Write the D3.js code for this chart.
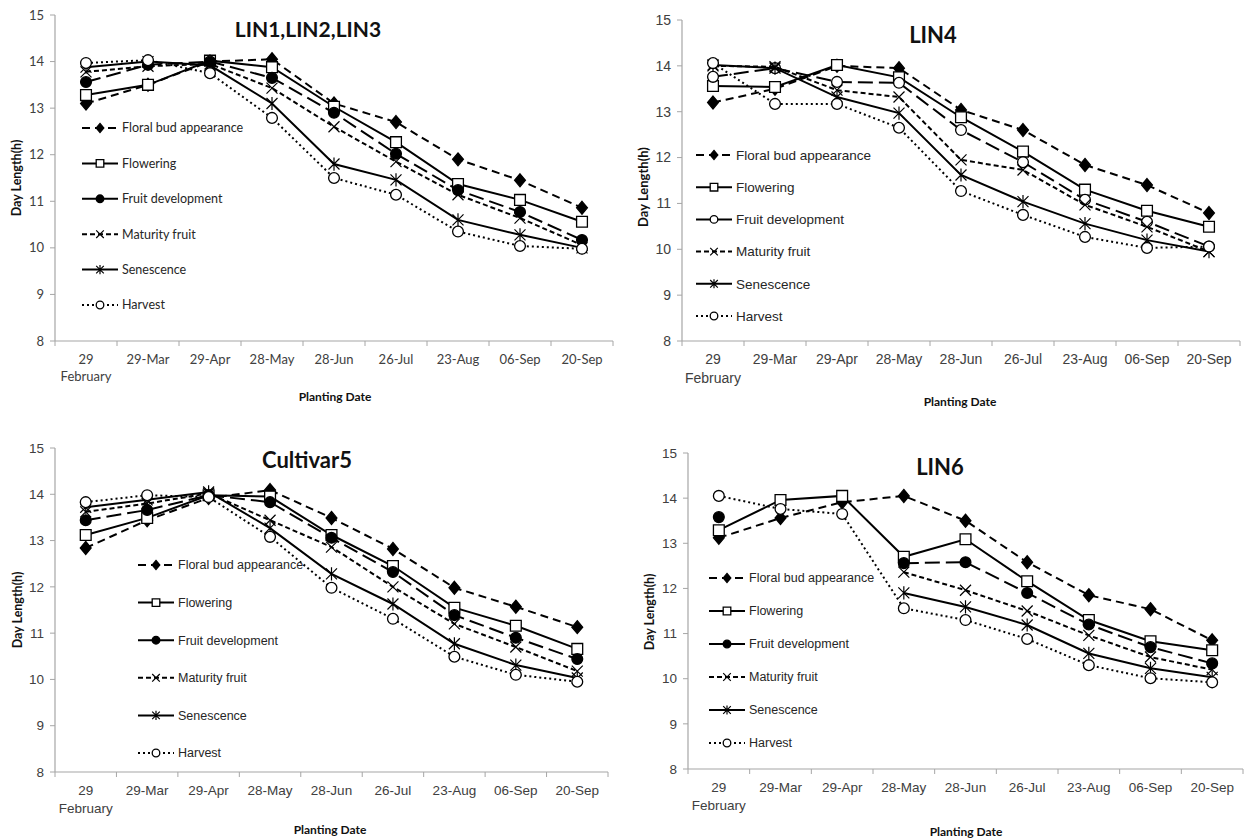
<!DOCTYPE html>
<html>
<head>
<meta charset="utf-8">
<script src="https://cdn.jsdelivr.net/npm/d3@7"></script>
<style>
  body { margin: 0; background: #fff; }
  svg { display: block; }
  .tick-label { fill: #404040; }
  .axis-title { font-family: Lato, "Open Sans", sans-serif; font-weight: bold; fill: #111; }
  .panel-title { font-family: Lato, "Open Sans", sans-serif; font-weight: bold; fill: #111; }
  .legend-text { fill: #262626; }
</style>
</head>
<body>
<svg id="chart" width="1244" height="840"></svg>
<script>
// planting dates (x categories)
const categories = ['29\nFebruary', '29-Mar', '29-Apr', '28-May', '28-Jun', '26-Jul', '23-Aug', '06-Sep', '20-Sep'];
const seriesNames = ['Floral bud appearance', 'Flowering', 'Fruit development', 'Maturity fruit', 'Senescence', 'Harvest'];
const yTicks = [8, 9, 10, 11, 12, 13, 14, 15];

// LIN1,LIN2,LIN3
const lin123Floral = [13.1, 13.5, 14.0, 14.05, 13.1, 12.7, 11.9, 11.45, 10.86];
const lin123Flowering = [13.28, 13.5, 14.02, 13.88, 13.03, 12.27, 11.37, 11.03, 10.56];
const lin123Fruit = [13.56, 13.93, 14.0, 13.65, 12.9, 12.02, 11.24, 10.77, 10.17];
const lin123Maturity = [13.78, 13.9, 13.95, 13.43, 12.6, 11.85, 11.14, 10.64, 10.06];
const lin123Senescence = [13.88, 14.0, 13.92, 13.1, 11.8, 11.46, 10.6, 10.28, 10.0];
const lin123Harvest = [13.97, 14.03, 13.75, 12.79, 11.5, 11.14, 10.35, 10.04, 9.98];

// LIN4
const lin4Floral = [13.2, 13.5, 14.0, 13.95, 13.04, 12.6, 11.84, 11.4, 10.79];
const lin4Flowering = [13.56, 13.54, 14.02, 13.75, 12.88, 12.13, 11.3, 10.84, 10.49];
const lin4Fruit = [13.76, 13.95, 13.65, 13.63, 12.6, 11.9, 11.08, 10.6, 10.06];
const lin4Maturity = [14.0, 13.98, 13.47, 13.32, 11.95, 11.73, 10.97, 10.49, 9.95];
const lin4Senescence = [14.02, 13.95, 13.32, 12.97, 11.62, 11.04, 10.56, 10.2, 9.95];
const lin4Harvest = [14.06, 13.17, 13.17, 12.65, 11.27, 10.75, 10.27, 10.03, 10.06];

// Cultivar5
const cv5Floral = [12.84, 13.44, 13.92, 14.09, 13.49, 12.82, 11.98, 11.57, 11.13];
const cv5Flowering = [13.12, 13.49, 13.98, 13.95, 13.12, 12.45, 11.55, 11.16, 10.66];
const cv5Fruit = [13.44, 13.66, 13.98, 13.83, 13.06, 12.32, 11.39, 10.9, 10.44];
const cv5Maturity = [13.62, 13.8, 14.02, 13.44, 12.86, 12.0, 11.2, 10.7, 10.18];
const cv5Senescence = [13.72, 13.88, 14.05, 13.27, 12.28, 11.63, 10.77, 10.31, 10.03];
const cv5Harvest = [13.83, 13.98, 13.94, 13.08, 11.98, 11.31, 10.49, 10.1, 9.95];

// LIN6
const lin6Floral = [13.12, 13.56, 13.91, 14.05, 13.5, 12.58, 11.85, 11.54, 10.85];
const lin6Flowering = [13.29, 13.96, 14.05, 12.7, 13.09, 12.16, 11.3, 10.83, 10.63];
const lin6Fruit = [13.58, null, null, 12.56, 12.58, 11.9, 11.2, 10.7, 10.34];
const lin6Maturity = [null, null, null, 12.36, 11.96, 11.5, 10.96, 10.48, 10.2];
const lin6Senescence = [null, null, null, 11.9, 11.59, 11.19, 10.56, 10.23, 10.03];
const lin6Harvest = [14.05, 13.76, 13.65, 11.56, 11.3, 10.88, 10.3, 10.01, 9.92];

// line / marker look for each series, same order as seriesNames
const styles = [
    { dash: '8,5', marker: 'diamond', fill: '#000' },
    { dash: null, marker: 'square', fill: '#fff' },
    { dash: '15,6', marker: 'circle', fill: '#000' },
    { dash: '5,3', marker: 'x', fill: 'none' },
    { dash: null, marker: 'asterisk', fill: 'none' },
    { dash: '2,3', marker: 'circle', fill: '#fff' }
];

const sansFont = '"Liberation Sans", Arial, sans-serif';
const humanFont = 'Lato, "Open Sans", sans-serif';

const panels = [
    {
        title: 'LIN1,LIN2,LIN3', titleX: 308, titleY: 37, titleSize: 21,
        values: [lin123Floral, lin123Flowering, lin123Fruit, lin123Maturity, lin123Senescence, lin123Harvest],
        left: 55, right: 613, top: 15, bottom: 341, tickSize: 13, font: humanFont,
        legendX: 82, legendY: 128, legendStep: 35.4, legendSize: 12.5,
        xTitle: [335, 401], yTitle: [17, 178], titleSize2: 12.5
    },
    {
        title: 'LIN4', titleX: 933, titleY: 43, titleSize: 22,
        values: [lin4Floral, lin4Flowering, lin4Fruit, lin4Maturity, lin4Senescence, lin4Harvest],
        left: 682, right: 1240, top: 20, bottom: 341, tickSize: 14, font: sansFont,
        legendX: 696, legendY: 155, legendStep: 32.2, legendSize: 13.5,
        xTitle: [960, 406], yTitle: [643, 187], titleSize2: 13, openFruit: true
    },
    {
        title: 'Cultivar5', titleX: 307, titleY: 468, titleSize: 22,
        values: [cv5Floral, cv5Flowering, cv5Fruit, cv5Maturity, cv5Senescence, cv5Harvest],
        left: 55, right: 608, top: 448, bottom: 772, tickSize: 13.5, font: sansFont,
        legendX: 138, legendY: 565, legendStep: 37.6, legendSize: 12.5,
        xTitle: [330, 834], yTitle: [18, 610], titleSize2: 12.5
    },
    {
        title: 'LIN6', titleX: 940, titleY: 475, titleSize: 22,
        values: [lin6Floral, lin6Flowering, lin6Fruit, lin6Maturity, lin6Senescence, lin6Harvest],
        left: 688, right: 1243, top: 453, bottom: 769, tickSize: 13.5, font: sansFont,
        legendX: 709, legendY: 578, legendStep: 33, legendSize: 12.5,
        xTitle: [966, 836], yTitle: [650, 612], titleSize2: 12.5
    }
];

const svg = d3.select('#chart');

function markerPath(type, s) {
    if (type === 'x') return `M${-s},${-s}L${s},${s}M${-s},${s}L${s},${-s}`;
    if (type === 'asterisk') return `M${-s},${-s}L${s},${s}M${-s},${s}L${s},${-s}M0,${-s * 1.2}L0,${s * 1.2}`;
    if (type === 'diamond') return `M0,${-s * 1.2}L${s},0L0,${s * 1.2}L${-s},0Z`;
    if (type === 'square') return `M${-s},${-s}H${s}V${s}H${-s}Z`;
    return d3.arc()({ innerRadius: 0, outerRadius: s, startAngle: 0, endAngle: 2 * Math.PI });
}

function drawMarker(g, style, x, y, s) {
    g.append('path')
        .attr('d', markerPath(style.marker, s))
        .attr('transform', `translate(${x},${y})`)
        .attr('fill', style.fill)
        .attr('stroke', '#000')
        .attr('stroke-width', style.marker === 'x' || style.marker === 'asterisk' ? 1.2 : 1.3);
}

function drawPanel(p) {
    const g = svg.append('g');
    const x = d3.scaleBand().domain(categories).range([p.left, p.right]);
    const y = d3.scaleLinear().domain([8, 15]).range([p.bottom, p.top]);

    // axes, excel style: ticks between categories
    g.append('line').attr('x1', p.left).attr('x2', p.left).attr('y1', p.top).attr('y2', p.bottom)
        .attr('stroke', '#a6a6a6').attr('stroke-width', 1.2);
    g.append('line').attr('x1', p.left).attr('x2', p.right).attr('y1', p.bottom).attr('y2', p.bottom)
        .attr('stroke', '#a6a6a6').attr('stroke-width', 1.2);

    g.selectAll('.ytick').data(yTicks).enter().append('line')
        .attr('x1', p.left - 5).attr('x2', p.left)
        .attr('y1', d => y(d)).attr('y2', d => y(d))
        .attr('stroke', '#a6a6a6');
    g.selectAll('.ylab').data(yTicks).enter().append('text')
        .attr('class', 'tick-label')
        .attr('x', p.left - 11).attr('y', d => y(d))
        .attr('dy', '0.35em').attr('text-anchor', 'end')
        .style('font-family', p.font)
        .style('font-size', p.tickSize + 'px')
        .text(d => d);

    const bounds = categories.map(c => x(c)).concat([p.right]);
    g.selectAll('.xtick').data(bounds).enter().append('line')
        .attr('x1', d => d).attr('x2', d => d)
        .attr('y1', p.bottom).attr('y2', p.bottom + 5)
        .attr('stroke', '#a6a6a6');

    const xl = g.selectAll('.xlab').data(categories).enter().append('text')
        .attr('class', 'tick-label')
        .attr('text-anchor', 'middle')
        .style('font-family', p.font)
        .style('font-size', p.tickSize + 'px')
        .attr('transform', d => `translate(${x(d) + x.bandwidth() / 2},${p.bottom + 23})`);
    xl.selectAll('tspan').data(d => d.split('\n')).enter().append('tspan')
        .attr('x', 0).attr('dy', (d, i) => i === 0 ? 0 : '1.33em')
        .text(d => d);

    // series lines then markers
    const line = d3.line()
        .defined(d => d != null)
        .x((d, i) => x(categories[i]) + x.bandwidth() / 2)
        .y(d => y(d));

    p.values.forEach((vals, si) => {
        const st = Object.assign({}, styles[si]);
        if (si === 2 && p.openFruit) st.fill = '#fff';
        g.append('path')
            .attr('d', line(vals))
            .attr('fill', 'none')
            .attr('stroke', '#000')
            .attr('stroke-width', 2)
            .attr('stroke-dasharray', st.dash);
        vals.forEach((v, i) => {
            if (v == null) return;
            drawMarker(g, st, x(categories[i]) + x.bandwidth() / 2, y(v), st.marker === 'x' || st.marker === 'asterisk' ? 5.5 : 5.4);
        });
    });

    // legend
    seriesNames.forEach((name, si) => {
        const st = Object.assign({}, styles[si]);
        if (si === 2 && p.openFruit) st.fill = '#fff';
        const ly = p.legendY + si * p.legendStep;
        g.append('line')
            .attr('x1', p.legendX).attr('x2', p.legendX + 36)
            .attr('y1', ly).attr('y2', ly)
            .attr('stroke', '#000').attr('stroke-width', 2)
            .attr('stroke-dasharray', st.dash);
        drawMarker(g, st, p.legendX + 18, ly, 3.8);
        g.append('text')
            .attr('class', 'legend-text')
            .attr('x', p.legendX + 40).attr('y', ly)
            .attr('dy', '0.35em')
            .style('font-family', p.font)
            .style('font-size', p.legendSize + 'px')
            .text(name);
    });

    // titles
    g.append('text').attr('class', 'panel-title')
        .attr('x', p.titleX).attr('y', p.titleY)
        .attr('text-anchor', 'middle')
        .style('font-size', p.titleSize + 'px')
        .text(p.title);
    g.append('text').attr('class', 'axis-title')
        .attr('x', p.xTitle[0]).attr('y', p.xTitle[1])
        .attr('text-anchor', 'middle')
        .style('font-size', '12px')
        .text('Planting Date');
    g.append('text').attr('class', 'axis-title')
        .attr('transform', `translate(${p.yTitle[0]},${p.yTitle[1]}) rotate(-90)`)
        .attr('text-anchor', 'middle')
        .attr('dy', '0.35em')
        .style('font-size', p.titleSize2 + 'px')
        .text('Day Length(h)');
}

panels.forEach(drawPanel);
</script>
</body>
</html>
